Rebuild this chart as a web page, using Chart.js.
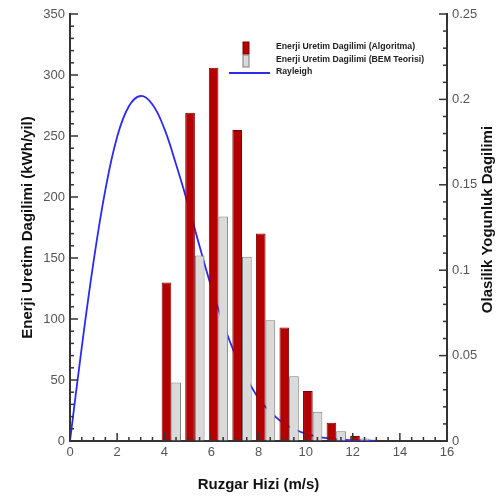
<!DOCTYPE html>
<html>
<head>
<meta charset="utf-8">
<script src="https://cdn.jsdelivr.net/npm/chart.js@4/dist/chart.umd.min.js"></script>
<style>
  html, body { margin: 0; padding: 0; background: #fff; }
  #wrap { width: 503px; height: 498px; }
</style>
</head>
<body>
<div id="wrap"><canvas id="my-chart" width="503" height="498"></canvas></div>
<script>
// wind speed bins (m/s)
const speeds = [4, 5, 6, 7, 8, 9, 10, 11, 12, 13];
// energy production (kWh/yil)
const energyAlgoritma = [130, 269, 306, 255, 170, 93, 41, 15, 4, 1];
const energyBEM = [48, 152, 184, 151, 99, 53, 24, 8, 2, 0.5];

// Rayleigh probability density
const rayleighX = [0, 0.5, 1, 1.5, 2, 2.5, 3, 3.5, 4, 4.5, 5, 5.5, 6, 6.5, 7, 7.5, 8,
  8.5, 9, 9.5, 10, 10.5, 11, 11.5, 12, 12.5, 13];
const rayleighY = [0, 0.055, 0.105, 0.147, 0.178, 0.196, 0.202, 0.197, 0.183, 0.162,
  0.139, 0.114, 0.090, 0.069, 0.051, 0.037, 0.025, 0.017, 0.011, 0.007, 0.0043,
  0.0026, 0.0015, 0.0008, 0.0004, 0.0002, 0.0001];

const xTicks = [0, 2, 4, 6, 8, 10, 12, 14, 16];
const yTicks = [0, 50, 100, 150, 200, 250, 300, 350];
const y2Ticks = [0, 0.05, 0.1, 0.15, 0.2, 0.25];

const FONT = "'Liberation Sans', Arial, sans-serif";
const GROUP_SHIFT = 0.3;

// inward major/minor ticks, legend and right title
const decor = {
  id: "decor",
  afterDraw(chart) {
    const ctx = chart.ctx;
    const a = chart.chartArea;
    const sx = chart.scales.x, sy = chart.scales.y, sy2 = chart.scales.y2;
    ctx.save();
    ctx.strokeStyle = "#333";
    ctx.lineWidth = 1.5;
    const tick = (x1, y1, x2, y2) => {
      ctx.beginPath(); ctx.moveTo(x1, y1); ctx.lineTo(x2, y2); ctx.stroke();
    };
    for (let v = 0; v <= 16.001; v += 0.5) {
      const p = sx.getPixelForValue(v);
      const major = Math.abs(v / 2 - Math.round(v / 2)) < 1e-6;
      tick(p, a.bottom, p, a.bottom - (major ? 8 : 4));
    }
    for (let v = 0; v <= 350.001; v += 10) {
      const p = sy.getPixelForValue(v);
      const major = v % 50 === 0;
      tick(a.left, p, a.left + (major ? 8 : 4), p);
    }
    for (let i = 0; i <= 25; i++) {
      const v = i / 100;
      const p = sy2.getPixelForValue(v);
      const major = i % 5 === 0;
      tick(a.right, p, a.right - (major ? 8 : 4), p);
    }

    // legend
    const ds = chart.data.datasets;
    ctx.font = "bold 8.7px " + FONT;
    ctx.textBaseline = "middle";
    ctx.textAlign = "left";
    const rows = [48, 61, 73];
    ds.forEach((d, i) => {
      const y = rows[i];
      if (d.type === "line") {
        ctx.strokeStyle = d.borderColor;
        ctx.lineWidth = 1.8;
        tick(229, y, 270, y);
      } else {
        ctx.fillStyle = d.backgroundColor;
        ctx.fillRect(243, y - 6, 6, 12);
        ctx.strokeStyle = d.borderColor;
        ctx.lineWidth = 1;
        ctx.strokeRect(243, y - 6, 6, 12);
      }
      ctx.fillStyle = "#222";
      ctx.fillText(d.label, 276, y - 1);
    });

    // right axis title, reading upwards
    ctx.translate(488, (a.top + a.bottom) / 2 - 8);
    ctx.rotate(-Math.PI / 2);
    ctx.font = "bold 15px " + FONT;
    ctx.textAlign = "center";
    ctx.fillStyle = "#111";
    ctx.fillText("Olasilik Yogunluk Dagilimi", 0, 0);
    ctx.restore();
  }
};

const tickFont = { family: FONT, size: 13 };
const titleFont = { family: FONT, size: 15, weight: "bold" };

const config = {
  type: "bar",
  data: {
    datasets: [
      {
        label: "Enerji Uretim Dagilimi (Algoritma)",
        data: speeds.map((s, i) => ({ x: s + GROUP_SHIFT, y: energyAlgoritma[i] })),
        backgroundColor: "#b40000",
        borderColor: "#7a0000",
        borderWidth: 1,
        yAxisID: "y",
      },
      {
        label: "Enerji Uretim Dagilimi (BEM Teorisi)",
        data: speeds.map((s, i) => ({ x: s + GROUP_SHIFT, y: energyBEM[i] })),
        backgroundColor: "#dadada",
        borderColor: "#7d7d7d",
        borderWidth: 1,
        yAxisID: "y",
      },
      {
        type: "line",
        label: "Rayleigh",
        data: rayleighX.map((x, i) => ({ x: x, y: rayleighY[i] })),
        borderColor: "#2b2bef",
        borderWidth: 1.8,
        pointRadius: 0,
        tension: 0.4,
        yAxisID: "y2",
      },
    ],
  },
  options: {
    responsive: false,
    animation: false,
    categoryPercentage: 0.82,
    barPercentage: 1,
    layout: { padding: { top: 14, left: 0, right: 0, bottom: 0 } },
    plugins: {
      legend: { display: false },
      tooltip: { enabled: false },
    },
    scales: {
      x: {
        type: "linear",
        offset: false,
        min: 0,
        max: 16,
        afterBuildTicks: (s) => { s.ticks = xTicks.map((v) => ({ value: v })); },
        afterFit: (s) => { s.height = 57; },
        ticks: { color: "#555", font: tickFont, padding: 4, maxRotation: 0 },
        grid: { drawOnChartArea: false, drawTicks: false, offset: false },
        border: { color: "#333", width: 2 },
        title: { display: true, text: "Ruzgar Hizi (m/s)", color: "#111", font: titleFont, padding: { top: 6 } },
      },
      y: {
        position: "left",
        min: 0,
        max: 350,
        afterBuildTicks: (s) => { s.ticks = yTicks.map((v) => ({ value: v })); },
        afterFit: (s) => { s.width = 70; },
        ticks: { color: "#555", font: tickFont, padding: 5 },
        grid: { drawOnChartArea: false, drawTicks: false },
        border: { color: "#333", width: 2 },
        title: { display: true, text: "Enerji Uretim Dagilimi (kWh/yil)", color: "#111", font: titleFont, padding: { top: 19, bottom: 0 } },
      },
      y2: {
        position: "right",
        min: 0,
        max: 0.25,
        afterBuildTicks: (s) => { s.ticks = y2Ticks.map((v) => ({ value: v })); },
        afterFit: (s) => { s.width = 56; },
        ticks: { color: "#555", font: tickFont, padding: 5, callback: (v) => String(+v.toFixed(2)) },
        grid: { drawOnChartArea: false, drawTicks: false },
        border: { color: "#333", width: 2 },
      },
    },
  },
  plugins: [decor],
};

const myChart = new Chart(document.getElementById("my-chart"), config);
</script>
</body>
</html>
